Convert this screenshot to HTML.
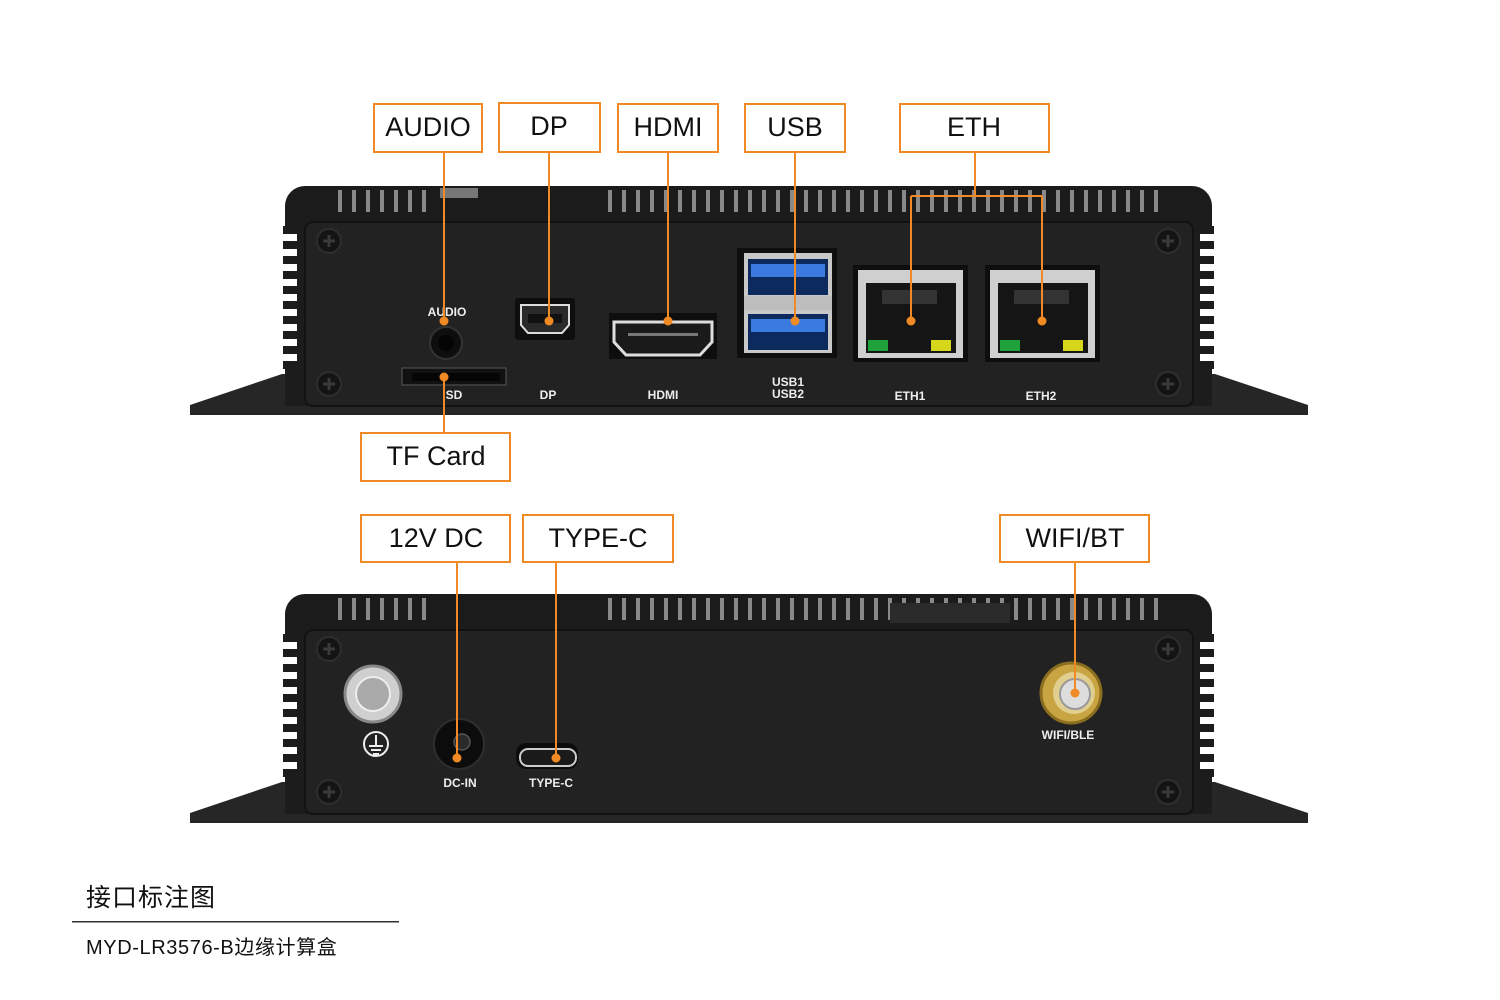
<!DOCTYPE html>
<html><head><meta charset="utf-8"><style>
html,body{margin:0;padding:0;background:#fff;}
svg{display:block;}
text{font-family:"Liberation Sans","Noto Sans CJK SC",sans-serif;}
</style></head><body>
<svg width="1500" height="1000" viewBox="0 0 1500 1000" xmlns="http://www.w3.org/2000/svg">
<defs>
<g id="screw">
 <circle r="12" fill="#141414" stroke="#2e2e2e" stroke-width="2"/>
 <path d="M-6 -1.5H6V1.5H-6ZM-1.5 -6H1.5V6H-1.5Z" fill="#3a3a3a"/>
</g>
<g id="ch">
 <polygon points="190,405 282,374 1215,374 1308,405 1308,415 190,415" fill="#262626"/>
 <rect x="285" y="186" width="927" height="50" rx="20" fill="#1b1b1b"/>
 <g stroke="#a5a5a5" stroke-width="4" opacity="0.8">
  <path d="M340 190V212M354 190V212M368 190V212M382 190V212M396 190V212M410 190V212M424 190V212M610 190V212M624 190V212M638 190V212M652 190V212M666 190V212M680 190V212M694 190V212M708 190V212M722 190V212M736 190V212M750 190V212M764 190V212M778 190V212M792 190V212M806 190V212M820 190V212M834 190V212M848 190V212M862 190V212M876 190V212M890 190V212M904 190V212M918 190V212M932 190V212M946 190V212M960 190V212M974 190V212M988 190V212M1002 190V212M1016 190V212M1030 190V212M1044 190V212M1058 190V212M1072 190V212M1086 190V212M1100 190V212M1114 190V212M1128 190V212M1142 190V212M1156 190V212"/>
 </g>
 <rect x="285" y="214" width="927" height="192" fill="#1c1c1c"/>
 <g fill="#1c1c1c">
  <rect x="283" y="226" width="17" height="8"/><rect x="283" y="241" width="17" height="8"/><rect x="283" y="256" width="17" height="8"/><rect x="283" y="271" width="17" height="8"/><rect x="283" y="286" width="17" height="8"/><rect x="283" y="301" width="17" height="8"/><rect x="283" y="316" width="17" height="8"/><rect x="283" y="331" width="17" height="8"/><rect x="283" y="346" width="17" height="8"/><rect x="283" y="361" width="17" height="8"/>
  <rect x="1197" y="226" width="17" height="8"/><rect x="1197" y="241" width="17" height="8"/><rect x="1197" y="256" width="17" height="8"/><rect x="1197" y="271" width="17" height="8"/><rect x="1197" y="286" width="17" height="8"/><rect x="1197" y="301" width="17" height="8"/><rect x="1197" y="316" width="17" height="8"/><rect x="1197" y="331" width="17" height="8"/><rect x="1197" y="346" width="17" height="8"/><rect x="1197" y="361" width="17" height="8"/>
 </g>
 <g fill="#fff">
  <rect x="283" y="234" width="14" height="7"/><rect x="283" y="249" width="14" height="7"/><rect x="283" y="264" width="14" height="7"/><rect x="283" y="279" width="14" height="7"/><rect x="283" y="294" width="14" height="7"/><rect x="283" y="309" width="14" height="7"/><rect x="283" y="324" width="14" height="7"/><rect x="283" y="339" width="14" height="7"/><rect x="283" y="354" width="14" height="7"/>
  <rect x="1200" y="234" width="14" height="7"/><rect x="1200" y="249" width="14" height="7"/><rect x="1200" y="264" width="14" height="7"/><rect x="1200" y="279" width="14" height="7"/><rect x="1200" y="294" width="14" height="7"/><rect x="1200" y="309" width="14" height="7"/><rect x="1200" y="324" width="14" height="7"/><rect x="1200" y="339" width="14" height="7"/><rect x="1200" y="354" width="14" height="7"/>
 </g>
 <rect x="305" y="222" width="888" height="184" rx="8" fill="#222" stroke="#121212" stroke-width="2"/>
 <use href="#screw" x="329" y="241"/><use href="#screw" x="329" y="384"/>
 <use href="#screw" x="1168" y="241"/><use href="#screw" x="1168" y="384"/>
</g>
</defs>

<!-- TOP DEVICE -->
<use href="#ch"/>
<rect x="440" y="188" width="38" height="10" fill="#777"/>
<circle cx="446" cy="343" r="16" fill="#0e0e0e" stroke="#333" stroke-width="2"/>
<circle cx="446" cy="343" r="8" fill="#050505"/>
<text x="447" y="316" font-size="12" font-weight="bold" fill="#eee" text-anchor="middle">AUDIO</text>
<rect x="402" y="368" width="104" height="17" fill="#111" stroke="#444" stroke-width="1.5"/>
<rect x="412" y="373" width="88" height="8" fill="#050505"/>
<text x="454" y="399" font-size="12" font-weight="bold" fill="#eee" text-anchor="middle">SD</text>
<rect x="515" y="298" width="60" height="42" rx="3" fill="#0e0e0e"/>
<path d="M521 305H569V325L562 333H528L521 325Z" fill="#2a2a2a" stroke="#ddd" stroke-width="2"/>
<rect x="528" y="314" width="34" height="9" fill="#111"/>
<text x="548" y="399" font-size="12" font-weight="bold" fill="#eee" text-anchor="middle">DP</text>
<rect x="609" y="313" width="108" height="46" fill="#0e0e0e"/>
<path d="M614 322H712V342L700 355H626L614 342Z" fill="#1a1a1a" stroke="#ddd" stroke-width="3"/>
<rect x="628" y="333" width="70" height="3" fill="#777"/>
<text x="663" y="399" font-size="12" font-weight="bold" fill="#eee" text-anchor="middle">HDMI</text>
<rect x="737" y="248" width="100" height="110" fill="#0e0e0e"/>
<rect x="744" y="253" width="88" height="100" fill="#c8c8c8"/>
<rect x="748" y="259" width="80" height="36" fill="#0d2a5e"/>
<rect x="751" y="264" width="74" height="13" fill="#3b7be0"/>
<rect x="744" y="296" width="88" height="14" fill="#bdbdbd"/>
<rect x="748" y="314" width="80" height="36" fill="#0d2a5e"/>
<rect x="751" y="319" width="74" height="13" fill="#3b7be0"/>
<text x="788" y="386" font-size="12" font-weight="bold" fill="#eee" text-anchor="middle">USB1</text>
<text x="788" y="398" font-size="12" font-weight="bold" fill="#eee" text-anchor="middle">USB2</text>
<rect x="853" y="265" width="115" height="97" fill="#0e0e0e"/>
<rect x="858" y="270" width="105" height="88" fill="#cfcfcf"/>
<rect x="866" y="283" width="90" height="70" fill="#151515"/>
<rect x="882" y="290" width="55" height="14" fill="#333"/>
<rect x="868" y="340" width="20" height="11" fill="#1fa23a"/>
<rect x="931" y="340" width="20" height="11" fill="#d6d61a"/>
<text x="910" y="400" font-size="12" font-weight="bold" fill="#eee" text-anchor="middle">ETH1</text>
<rect x="985" y="265" width="115" height="97" fill="#0e0e0e"/>
<rect x="990" y="270" width="105" height="88" fill="#cfcfcf"/>
<rect x="998" y="283" width="90" height="70" fill="#151515"/>
<rect x="1014" y="290" width="55" height="14" fill="#333"/>
<rect x="1000" y="340" width="20" height="11" fill="#1fa23a"/>
<rect x="1063" y="340" width="20" height="11" fill="#d6d61a"/>
<text x="1041" y="400" font-size="12" font-weight="bold" fill="#eee" text-anchor="middle">ETH2</text>

<!-- BOTTOM DEVICE -->
<use href="#ch" transform="translate(0,408)"/>
<rect x="890" y="603" width="120" height="20" fill="#2a2a2a"/>
<circle cx="373" cy="694" r="28" fill="#cfcfcf" stroke="#888" stroke-width="3"/>
<circle cx="373" cy="694" r="17" fill="#aaa" stroke="#eee" stroke-width="2"/>
<circle cx="376" cy="744" r="12" fill="none" stroke="#eee" stroke-width="2"/>
<path d="M376 735V746M369 746H383M371 750H381M373 754H379" stroke="#eee" stroke-width="2"/>
<circle cx="459" cy="744" r="25" fill="#0c0c0c" stroke="#2e2e2e" stroke-width="2"/>
<circle cx="462" cy="742" r="8" fill="#2a2a2a" stroke="#555" stroke-width="1.5"/>
<text x="460" y="787" font-size="12" font-weight="bold" fill="#eee" text-anchor="middle">DC-IN</text>
<rect x="516" y="743" width="62" height="26" rx="10" fill="#0c0c0c"/>
<rect x="520" y="749" width="56" height="17" rx="8" fill="#1a1a1a" stroke="#ccc" stroke-width="2"/>
<text x="551" y="787" font-size="12" font-weight="bold" fill="#eee" text-anchor="middle">TYPE-C</text>
<circle cx="1071" cy="693" r="30" fill="#c9a442" stroke="#8a6d1e" stroke-width="3"/>
<circle cx="1074" cy="693" r="21" fill="#e0cf8e"/>
<circle cx="1075" cy="694" r="15" fill="#ddd" stroke="#999" stroke-width="2"/>
<text x="1068" y="739" font-size="12" font-weight="bold" fill="#eee" text-anchor="middle">WIFI/BLE</text>

<!-- CALLOUTS -->
<g fill="none" stroke="#f08a24" stroke-width="2">
 <rect x="374" y="104" width="108" height="48"/>
 <rect x="499" y="103" width="101" height="49"/>
 <rect x="618" y="104" width="100" height="48"/>
 <rect x="745" y="104" width="100" height="48"/>
 <rect x="900" y="104" width="149" height="48"/>
 <rect x="361" y="433" width="149" height="48"/>
 <rect x="361" y="515" width="149" height="47"/>
 <rect x="523" y="515" width="150" height="47"/>
 <rect x="1000" y="515" width="149" height="47"/>
 <path d="M444 152V321M549 152V321M668 152V321M795 152V321M975 152V196M911 196H1042M911 196V321M1042 196V321M444 433V377M457 562V758M556 562V758M1075 562V693"/>
</g>
<g fill="#f08a24">
 <circle cx="444" cy="321" r="4.5"/><circle cx="549" cy="321" r="4.5"/><circle cx="668" cy="321" r="4.5"/>
 <circle cx="795" cy="321" r="4.5"/><circle cx="911" cy="321" r="4.5"/><circle cx="1042" cy="321" r="4.5"/>
 <circle cx="444" cy="377" r="4.5"/><circle cx="457" cy="758" r="4.5"/><circle cx="556" cy="758" r="4.5"/>
 <circle cx="1075" cy="693" r="4.5"/>
</g>
<g font-size="27" fill="#111" text-anchor="middle">
 <text x="428" y="136">AUDIO</text>
 <text x="549" y="135">DP</text>
 <text x="668" y="136">HDMI</text>
 <text x="795" y="136">USB</text>
 <text x="974" y="136">ETH</text>
 <text x="436" y="465">TF Card</text>
 <text x="436" y="547">12V DC</text>
 <text x="598" y="547">TYPE-C</text>
 <text x="1075" y="547">WIFI/BT</text>
</g>

<!-- FOOTER -->
<text x="86" y="906" font-size="25" fill="#111" letter-spacing="1">接口标注图</text>
<rect x="72" y="921" width="327" height="1.5" fill="#333"/>
<text x="86" y="954" font-size="20" fill="#111" letter-spacing="0.6">MYD-LR3576-B边缘计算盒</text>
</svg>
</body></html>
